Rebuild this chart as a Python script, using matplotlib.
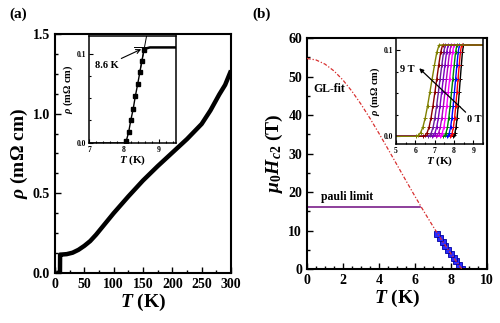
import numpy as np
import matplotlib.pyplot as plt
from matplotlib.ticker import MultipleLocator

plt.rcParams['font.family'] = 'Liberation Serif'
plt.rcParams['font.weight'] = 'bold'
plt.rcParams['axes.labelweight'] = 'bold'
plt.rcParams['mathtext.fontset'] = 'custom'
plt.rcParams['mathtext.rm'] = 'Liberation Serif:bold'
plt.rcParams['mathtext.it'] = 'Liberation Serif:italic:bold'
plt.rcParams['mathtext.bf'] = 'Liberation Serif:bold'
plt.rcParams['axes.linewidth'] = 1.5

# (a) resistivity vs temperature
T_a = [2, 5, 8, 8.5, 8.7, 10, 20, 30, 40, 50, 60, 70, 80, 90, 100, 125, 150,
       175, 200, 225, 250, 265, 280, 290, 300]
rho_a = [0, 0, 0, 0, 0.115, 0.115, 0.118, 0.127, 0.145, 0.17, 0.20, 0.24,
         0.285, 0.33, 0.375, 0.48, 0.58, 0.67, 0.755, 0.84, 0.935, 1.02,
         1.12, 1.18, 1.27]

# inset (a): zoom on the transition
T_low = [7.0, 8.0]
rho_low = [0.0, 0.0]
T_tr = [8.07, 8.14, 8.20, 8.27, 8.33, 8.40, 8.46, 8.52, 8.58]
rho_tr = [0.002, 0.012, 0.025, 0.038, 0.052, 0.066, 0.079, 0.092, 0.104]
T_high = [8.58, 8.65, 8.75, 9.0, 9.5]
rho_high = [0.104, 0.106, 0.107, 0.107, 0.107]
T_tan = [8.45, 8.66]
rho_tan = [0.077, 0.121]
T_flat = [8.30, 8.90]
rho_flat = [0.108, 0.108]

# (b) upper critical field
H_pts = [0, 1, 2, 3, 4, 5, 6, 7, 8, 9]
T_pts = [8.60, 8.45, 8.30, 8.14, 7.99, 7.84, 7.68, 7.53, 7.38, 7.22]
T_gl = [0, 0.5, 1, 1.5, 2, 2.5, 3, 3.5, 4, 4.5, 5, 5.5, 6, 6.5, 7, 7.5, 8,
        8.25, 8.6]
H_gl = [54.7, 54.33, 53.24, 51.47, 49.09, 46.17, 42.83, 39.15, 35.24, 31.18,
        27.07, 22.95, 18.89, 14.92, 11.10, 7.44, 3.95, 2.27, 0.0]
pauli_H = 16.0
pauli_T = [0, 6.25]

# inset (b): transitions in field, 0 T ... 9 T
fields = ['0 T', '1 T', '2 T', '3 T', '4 T', '5 T', '6 T', '7 T', '8 T', '9 T']
T_mid = [8.27, 8.15, 8.02, 7.87, 7.70, 7.53, 7.36, 7.19, 7.01, 6.75]
T_width = [0.55, 0.60, 0.65, 0.70, 0.75, 0.80, 0.85, 0.90, 1.00, 1.20]
s_prof = [0, 0.1, 0.2, 0.3, 0.4, 0.5, 0.6, 0.7, 0.8, 0.9, 1.0]
p_prof = [0, 0.01, 0.04, 0.10, 0.20, 0.33, 0.48, 0.63, 0.78, 0.92, 1.0]
rho_n = 0.106
colors = ['black', 'red', 'blue', '#008000', '#ff00ff', '#b000c0',
          '#8000c0', '#6a1b9a', '#8b0000', '#808000']

fig = plt.figure(figsize=(5, 3.23), dpi=100)

ax1 = fig.add_axes([0.11, 0.155, 0.352, 0.74])
ax1.plot(T_a, rho_a, color='black', lw=3.2, solid_joinstyle='round',
         solid_capstyle='butt')
ax1.set_xlim(0, 300)
ax1.set_ylim(0, 1.5)
ax1.xaxis.set_major_locator(MultipleLocator(50))
ax1.xaxis.set_minor_locator(MultipleLocator(25))
ax1.yaxis.set_major_locator(MultipleLocator(0.5))
ax1.yaxis.set_minor_locator(MultipleLocator(0.125))
ax1.tick_params(direction='in', which='both', labelsize=10, width=1)
ax1.tick_params(which='major', length=4)
ax1.tick_params(which='minor', length=2)
ax1.set_xlabel(r'$T$ (K)', fontsize=14, labelpad=1)
ax1.set_ylabel(r'$\rho$ (m$\Omega$ cm)', fontsize=14, labelpad=2)
fig.text(0.036, 0.955, '(a)', fontsize=11, ha='center', va='center')

ins1 = fig.add_axes([0.178, 0.558, 0.174, 0.331])
ins1.plot(T_low, rho_low, color='black', lw=1.8)
ins1.plot(T_tr, rho_tr, color='black', lw=1, marker='s', ms=3)
ins1.plot(T_high, rho_high, color='black', lw=1.8)
ins1.plot(T_tan, rho_tan, color='black', lw=0.7)
ins1.plot(T_flat, rho_flat, color='black', lw=0.7)
ins1.annotate('8.6 K', xy=(8.5, 0.105), xytext=(7.17, 0.087), fontsize=7.5,
              va='center', arrowprops=dict(arrowstyle='->', lw=0.8,
                                           color='black', shrinkA=0, shrinkB=0))
ins1.set_xlim(7, 9.5)
ins1.set_ylim(0, 0.12)
ins1.xaxis.set_major_locator(MultipleLocator(1))
ins1.xaxis.set_minor_locator(MultipleLocator(0.2))
ins1.yaxis.set_major_locator(MultipleLocator(0.1))
ins1.yaxis.set_minor_locator(MultipleLocator(0.025))
ins1.tick_params(direction='in', which='both', labelsize=5.5, width=0.8, pad=2)
ins1.tick_params(which='major', length=3)
ins1.tick_params(which='minor', length=1.5)
for sp in ins1.spines.values():
    sp.set_linewidth(1.1)
ins1.set_xlabel(r'$T$ (K)', fontsize=8, labelpad=0)
ins1.set_ylabel(r'$\rho$ (m$\Omega$ cm)', fontsize=7.5, labelpad=1)

ax2 = fig.add_axes([0.614, 0.167, 0.36, 0.715])
ax2.plot(T_pts, H_pts, ls='none', marker='s', ms=5, color='#2a2aff',
         mec='#0000a0', mew=0.6, zorder=2)
ax2.plot(T_gl, H_gl, color='#d83030', lw=0.9, ls=(0, (3, 1.5, 1, 1.5)),
         zorder=3)
ax2.plot(pauli_T, [pauli_H, pauli_H], color='#7a1f8a', lw=1.2)
ax2.text(0.8, 18.6, 'pauli limit', fontsize=8.5, va='center')
ax2.text(0.35, 46.7, 'GL-fit', fontsize=8.5, va='center')
ax2.set_xlim(0, 10)
ax2.set_ylim(0, 60)
ax2.xaxis.set_major_locator(MultipleLocator(2))
ax2.xaxis.set_minor_locator(MultipleLocator(0.5))
ax2.yaxis.set_major_locator(MultipleLocator(10))
ax2.yaxis.set_minor_locator(MultipleLocator(5))
ax2.tick_params(direction='in', which='both', labelsize=10, width=1)
ax2.tick_params(which='major', length=4)
ax2.tick_params(which='minor', length=2)
ax2.set_xlabel(r'$T$ (K)', fontsize=14, labelpad=1)
ax2.set_ylabel(r'$\mu_0H_{c2}$ (T)', fontsize=14, labelpad=2)
fig.text(0.524, 0.955, '(b)', fontsize=11, ha='center', va='center')

ins2 = fig.add_axes([0.792, 0.554, 0.174, 0.328])
for mid, w, c in zip(T_mid, T_width, colors):
    t0 = mid - 0.6 * w
    tt = [5.0] + [t0 + s * w for s in s_prof] + [9.5]
    rr = [0.0] + [p * rho_n for p in p_prof] + [rho_n]
    ins2.plot(tt, rr, color=c, lw=1, marker='+', ms=3, mew=0.7,
              markevery=slice(1, -1))
ins2.annotate('', xy=(6.2, 0.079), xytext=(8.6, 0.028),
              arrowprops=dict(arrowstyle='-|>', lw=0.9, color='black',
                              mutation_scale=6, shrinkA=0, shrinkB=0))
ins2.text(5.95, 0.0775, fields[-1], fontsize=7.5, ha='right', va='center')
ins2.text(8.68, 0.02, fields[0], fontsize=7.5, ha='left', va='center')
ins2.set_xlim(5, 9.5)
ins2.set_ylim(-0.009, 0.114)
ins2.xaxis.set_major_locator(MultipleLocator(1))
ins2.xaxis.set_minor_locator(MultipleLocator(0.5))
ins2.yaxis.set_major_locator(MultipleLocator(0.1))
ins2.yaxis.set_minor_locator(MultipleLocator(0.025))
ins2.tick_params(direction='in', which='both', labelsize=5.5, width=0.8, pad=2)
ins2.tick_params(which='major', length=3)
ins2.tick_params(which='minor', length=1.5)
for sp in ins2.spines.values():
    sp.set_linewidth(1.1)
ins2.set_xlabel(r'$T$ (K)', fontsize=8, labelpad=0)
ins2.set_ylabel(r'$\rho$ (m$\Omega$ cm)', fontsize=7.5, labelpad=1)

fig.savefig('out.png', dpi=100)
